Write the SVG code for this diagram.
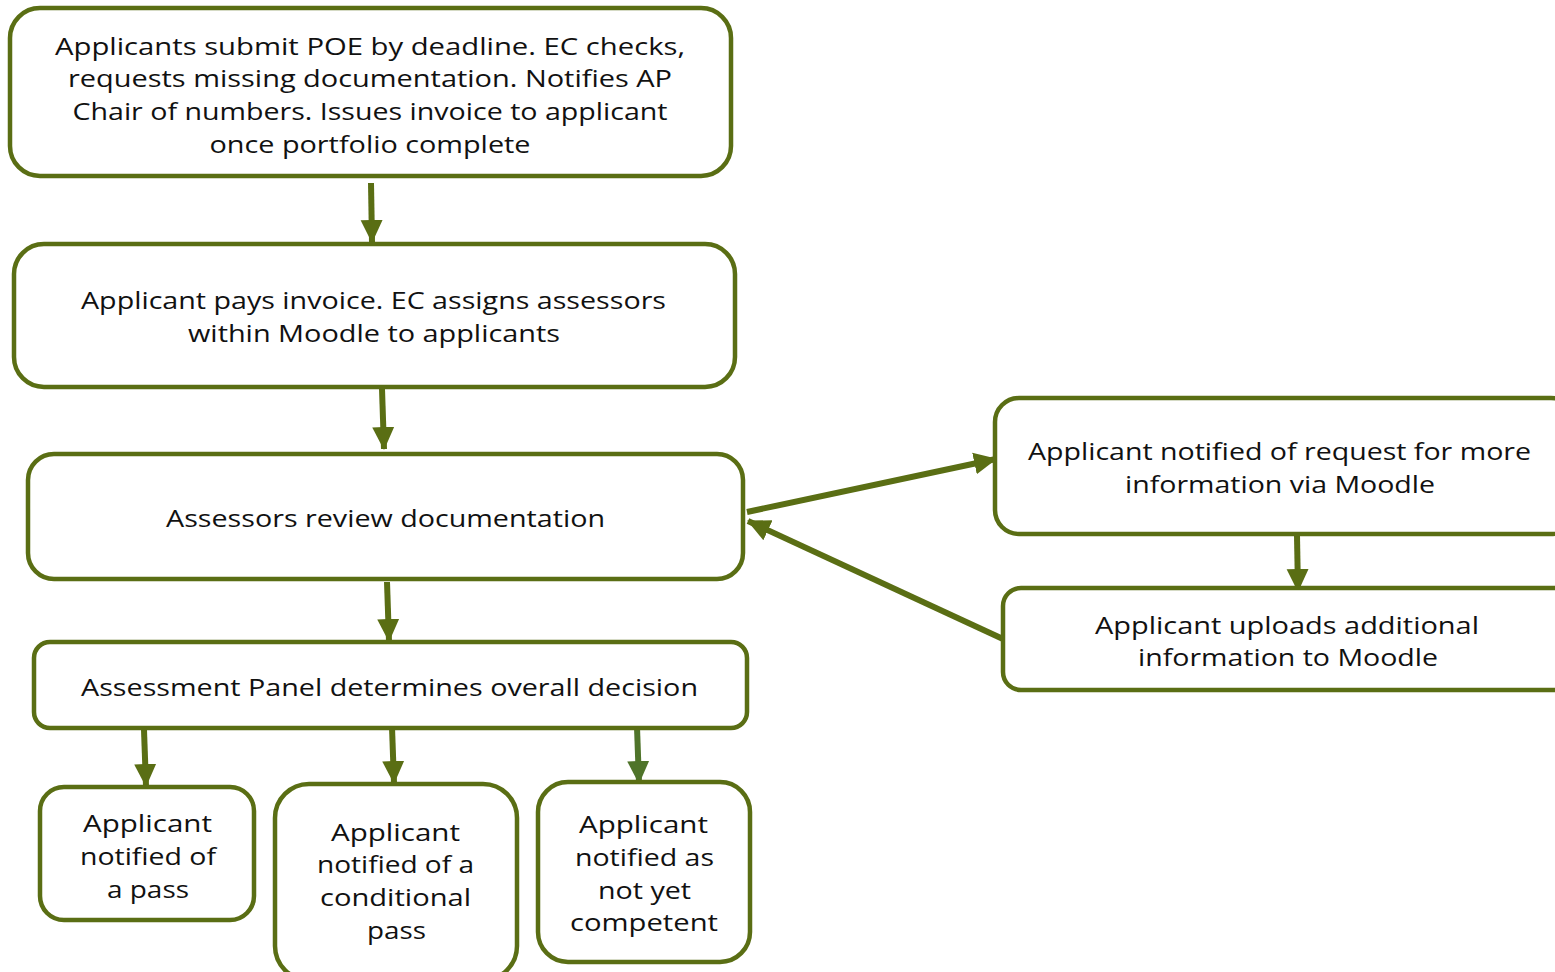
<svg xmlns="http://www.w3.org/2000/svg" width="1555" height="972" viewBox="0 0 1555 972">
<defs>
<style>
.box{fill:#fff;stroke:#5a6e14;stroke-width:4.5}
.t{font-family:"Open Sans","Liberation Sans",sans-serif;font-size:24px;fill:#111;text-anchor:middle}
.c{stroke:#5a6e14;stroke-width:6;fill:none}
</style>
<marker id="ah" markerUnits="userSpaceOnUse" markerWidth="24" markerHeight="24" viewBox="0 0 24 24" refX="22" refY="12" orient="auto">
<path d="M0,1 L23,12 L0,23 Z" fill="#5a6e14"/>
</marker>
<marker id="ah2" markerUnits="userSpaceOnUse" markerWidth="24" markerHeight="24" viewBox="0 0 24 24" refX="22" refY="12" orient="auto">
<path d="M0,1 L23,12 L0,23 Z" fill="#4f742a"/>
</marker>
</defs>
<rect width="1555" height="972" fill="#fff"/>
<g id="connectors">
<line class="c" x1="371" y1="183" x2="372" y2="242" marker-end="url(#ah)"/>
<line class="c" x1="382" y1="389" x2="384" y2="449" marker-end="url(#ah)"/>
<line class="c" x1="387" y1="582" x2="389" y2="641" marker-end="url(#ah)"/>
<line class="c" x1="144" y1="730" x2="146" y2="786" marker-end="url(#ah)"/>
<line class="c" x1="392" y1="727" x2="394" y2="783" marker-end="url(#ah)"/>
<line class="c" x1="637" y1="727" x2="639" y2="783" marker-end="url(#ah2)" style="stroke:#4f742a"/>
<line class="c" x1="747" y1="512" x2="996" y2="459" marker-end="url(#ah)"/>
<line class="c" x1="1297" y1="536" x2="1298" y2="591" marker-end="url(#ah)"/>
<line class="c" x1="1003" y1="639" x2="748" y2="521" marker-end="url(#ah)"/>
</g>
<g id="n1">
<rect class="box" x="10" y="8" width="721" height="168" rx="30"/>
<text class="t" x="370" y="55" textLength="630" lengthAdjust="spacingAndGlyphs">Applicants submit POE by deadline. EC checks,</text>
<text class="t" x="370" y="87" textLength="604" lengthAdjust="spacingAndGlyphs">requests missing documentation. Notifies AP</text>
<text class="t" x="370" y="120" textLength="595" lengthAdjust="spacingAndGlyphs">Chair of numbers. Issues invoice to applicant</text>
<text class="t" x="370" y="153" textLength="321" lengthAdjust="spacingAndGlyphs">once portfolio complete</text>
</g>
<g id="n2">
<rect class="box" x="14" y="244" width="721" height="143" rx="30"/>
<text class="t" x="373.5" y="309" textLength="585" lengthAdjust="spacingAndGlyphs">Applicant pays invoice. EC assigns assessors</text>
<text class="t" x="374" y="342" textLength="372" lengthAdjust="spacingAndGlyphs">within Moodle to applicants</text>
</g>
<g id="n3">
<rect class="box" x="28" y="454" width="715" height="125" rx="26"/>
<text class="t" x="385.5" y="527" textLength="439" lengthAdjust="spacingAndGlyphs">Assessors review documentation</text>
</g>
<g id="n4">
<rect class="box" x="34" y="642" width="713" height="86" rx="16"/>
<text class="t" x="389.5" y="696" textLength="617" lengthAdjust="spacingAndGlyphs">Assessment Panel determines overall decision</text>
</g>
<g id="n5">
<rect class="box" x="40" y="787" width="214" height="133" rx="24"/>
<text class="t" x="147.5" y="832" textLength="129" lengthAdjust="spacingAndGlyphs">Applicant</text>
<text class="t" x="148" y="865" textLength="136" lengthAdjust="spacingAndGlyphs">notified of</text>
<text class="t" x="148" y="898" textLength="82" lengthAdjust="spacingAndGlyphs">a pass</text>
</g>
<g id="n6">
<rect class="box" x="275" y="784" width="242" height="196" rx="34"/>
<text class="t" x="395.5" y="841" textLength="129" lengthAdjust="spacingAndGlyphs">Applicant</text>
<text class="t" x="395.5" y="873" textLength="157" lengthAdjust="spacingAndGlyphs">notified of a</text>
<text class="t" x="395.5" y="906" textLength="151" lengthAdjust="spacingAndGlyphs">conditional</text>
<text class="t" x="396.5" y="939" textLength="59" lengthAdjust="spacingAndGlyphs">pass</text>
</g>
<g id="n7">
<rect class="box" x="538" y="782" width="212" height="180" rx="30"/>
<text class="t" x="643.5" y="833" textLength="129" lengthAdjust="spacingAndGlyphs">Applicant</text>
<text class="t" x="644.5" y="866" textLength="139" lengthAdjust="spacingAndGlyphs">notified as</text>
<text class="t" x="644.5" y="899" textLength="93" lengthAdjust="spacingAndGlyphs">not yet</text>
<text class="t" x="644" y="931" textLength="148" lengthAdjust="spacingAndGlyphs">competent</text>
</g>
<g id="n8">
<rect class="box" x="995" y="398" width="580" height="136" rx="24"/>
<text class="t" x="1279.5" y="460" textLength="503" lengthAdjust="spacingAndGlyphs">Applicant notified of request for more</text>
<text class="t" x="1280" y="493" textLength="310" lengthAdjust="spacingAndGlyphs">information via Moodle</text>
</g>
<g id="n9">
<rect class="box" x="1003" y="588" width="580" height="102" rx="18"/>
<text class="t" x="1287" y="634" textLength="384" lengthAdjust="spacingAndGlyphs">Applicant uploads additional</text>
<text class="t" x="1288" y="666" textLength="300" lengthAdjust="spacingAndGlyphs">information to Moodle</text>
</g>
</svg>
